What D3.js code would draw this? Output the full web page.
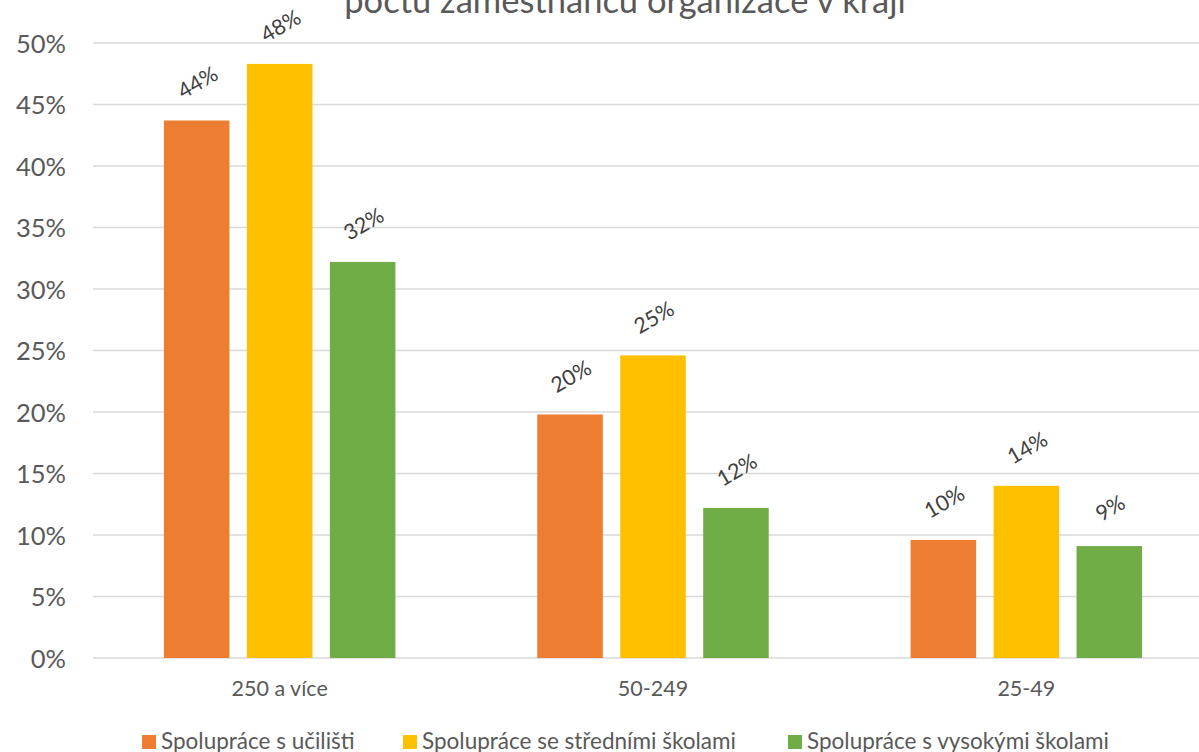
<!DOCTYPE html>
<html><head><meta charset="utf-8">
<script src="https://cdn.jsdelivr.net/npm/d3@7"></script>
<style>body{margin:0;background:#fff;overflow:hidden}svg{display:block}</style>
</head><body>
<svg id="c" width="1199" height="752"></svg>
<script>
const categories = ["250 a více", "50-249", "25-49"];
const seriesNames = ["Spolupráce s učilišti", "Spolupráce se středními školami", "Spolupráce s vysokými školami"];
const ucilisteValues = [43.7, 19.8, 9.6];
const stredniValues = [48.3, 24.6, 14.0];
const vysokeValues = [32.2, 12.2, 9.1];
const labelValues = [[44, 20, 10], [48, 25, 14], [32, 12, 9]];
const yTicks = [0, 5, 10, 15, 20, 25, 30, 35, 40, 45, 50];
const colors = ["#ED7D31", "#FFC000", "#70AD47"];
const titleText = "počtu zaměstnanců organizace v kraji";

(function () {
const series = [ucilisteValues, stredniValues, vysokeValues];
const font = "Lato, 'Liberation Sans', sans-serif";
const svg = d3.select("#c");
const mLeft = 93, mRight = 1213, mTop = 43, mBottom = 658;

const x = d3.scaleBand().domain(categories).range([mLeft, mRight]).paddingInner(0).paddingOuter(0);
const y = d3.scaleLinear().domain([0, 50]).range([mBottom, mTop]);
const xs = d3.scaleBand().domain(d3.range(3)).range([0, x.bandwidth()]).paddingInner(0.21).paddingOuter(0.855);

svg.append("g").selectAll("line").data(yTicks).join("line")
  .attr("x1", mLeft).attr("x2", mRight)
  .attr("y1", d => y(d)).attr("y2", d => y(d))
  .attr("stroke", "#d9d9d9").attr("stroke-width", 1.3);

const yAxis = d3.axisLeft(y).tickValues(yTicks).tickFormat(d => d + "%").tickSize(0).tickPadding(0);
const ya = svg.append("g").attr("transform", `translate(66,0)`).call(yAxis);
ya.select(".domain").remove();
ya.selectAll("text").attr("font-family", font).attr("font-size", 25.5).attr("fill", "#595959").attr("dy", "0.36em");

const xAxis = d3.axisBottom(x).tickSize(0).tickPadding(0);
const xa = svg.append("g").attr("transform", `translate(0,${mBottom})`).call(xAxis);
xa.select(".domain").remove();
xa.selectAll("text").attr("font-family", font).attr("font-size", 21.5).attr("fill", "#595959").attr("dy", "38");

series.forEach((vals, si) => {
  const g = svg.append("g");
  g.selectAll("rect").data(vals).join("rect")
    .attr("x", (d, i) => x(categories[i]) + xs(si))
    .attr("width", xs.bandwidth())
    .attr("y", d => y(d))
    .attr("height", d => y(0) - y(d))
    .attr("fill", colors[si]);
  g.selectAll("text").data(vals).join("text")
    .attr("transform", (d, i) => `translate(${x(categories[i]) + xs(si) + xs.bandwidth() / 2 + 1},${y(d) - 38}) rotate(-30)`)
    .attr("text-anchor", "middle").attr("dy", "0.35em")
    .attr("font-family", font).attr("font-size", 21.5).attr("fill", "#404040")
    .text((d, i) => labelValues[si][i] + "%");
});

svg.append("text").attr("x", 625).attr("y", 13).attr("text-anchor", "middle")
  .attr("font-family", font).attr("font-size", 34.5).attr("fill", "#595959").text(titleText);

const legendX = [142, 403, 788];
const lg = svg.append("g");
seriesNames.forEach((n, i) => {
  lg.append("rect").attr("x", legendX[i]).attr("y", 735).attr("width", 14).attr("height", 14).attr("fill", colors[i]);
  lg.append("text").attr("x", legendX[i] + 19).attr("y", 749)
    .attr("font-family", font).attr("font-size", 22.5).attr("fill", "#595959").text(n);
});
})();
</script>
</body></html>
